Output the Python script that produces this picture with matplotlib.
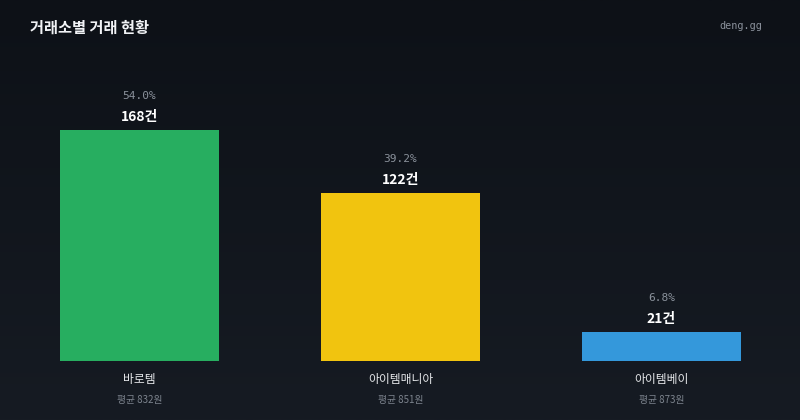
import matplotlib
matplotlib.use("Agg")
import matplotlib.pyplot as plt
import numpy as np
from matplotlib.colors import LinearSegmentedColormap

plt.rcParams['font.family'] = ['Noto Sans CJK KR', 'DejaVu Sans']

exchanges = ["바로템", "아이템매니아", "아이템베이"]
counts = [168, 122, 21]
shares = ["54.0%", "39.2%", "6.8%"]
avg_prices = [832, 851, 873]
colors = ["#27ae60", "#f1c40f", "#3498db"]

W, H = 800, 420
fig = plt.figure(figsize=(W / 100, H / 100), dpi=100)

# background gradient
bg = fig.add_axes([0, 0, 1, 1], zorder=0)
cmap = LinearSegmentedColormap.from_list("bg", ["#0d1117", "#161b23"])
bg.imshow(np.linspace(0, 1, 256).reshape(-1, 1), aspect="auto", cmap=cmap,
          extent=[0, 1, 0, 1], origin="upper")
bg.set_axis_off()

# axes: x from -0.5..2.5 spans px 9..792; baseline y=361, 168 -> 231px
left_px, right_px = 9, 792
base_px = 361
px_per_unit = 231 / 168
top_px = 40
ymax = (base_px - top_px) / px_per_unit
ax = fig.add_axes([left_px / W, (H - base_px) / H, (right_px - left_px) / W,
                   (base_px - top_px) / H], zorder=1)
ax.set_facecolor("none")
ax.set_xlim(-0.5, 2.5)
ax.set_ylim(0, ymax)
ax.set_axis_off()

x = np.arange(len(exchanges))
ax.bar(x, counts, width=0.609, color=colors)

for xi, c, s, name, p in zip(x, counts, shares, exchanges, avg_prices):
    ax.annotate(f"{c}건", (xi, c), xytext=(0, 13), textcoords="offset pixels",
                ha="center", va="center", color="#ffffff", fontsize=10,
                fontweight="bold")
    ax.annotate(s, (xi, c), xytext=(0, 34), textcoords="offset pixels",
                ha="center", va="center", color="#8b929c", fontsize=8,
                family="DejaVu Sans Mono")
    ax.annotate(name, (xi, 0), xytext=(0, -19), textcoords="offset pixels",
                ha="center", va="center", color="#e6e8eb", fontsize=8.5)
    ax.annotate(f"평균 {p}원", (xi, 0), xytext=(0, -39), textcoords="offset pixels",
                ha="center", va="center", color="#7d848e", fontsize=7)

fig.text(30 / W, 1 - 28 / H, "거래소별 거래 현황", ha="left", va="center",
         color="#f0f2f5", fontsize=11, fontweight="bold")
fig.text(762 / W, 1 - 26 / H, "deng.gg", ha="right", va="center",
         color="#8b929c", fontsize=7.3, family="DejaVu Sans Mono")

fig.savefig("out.png", dpi=100)
